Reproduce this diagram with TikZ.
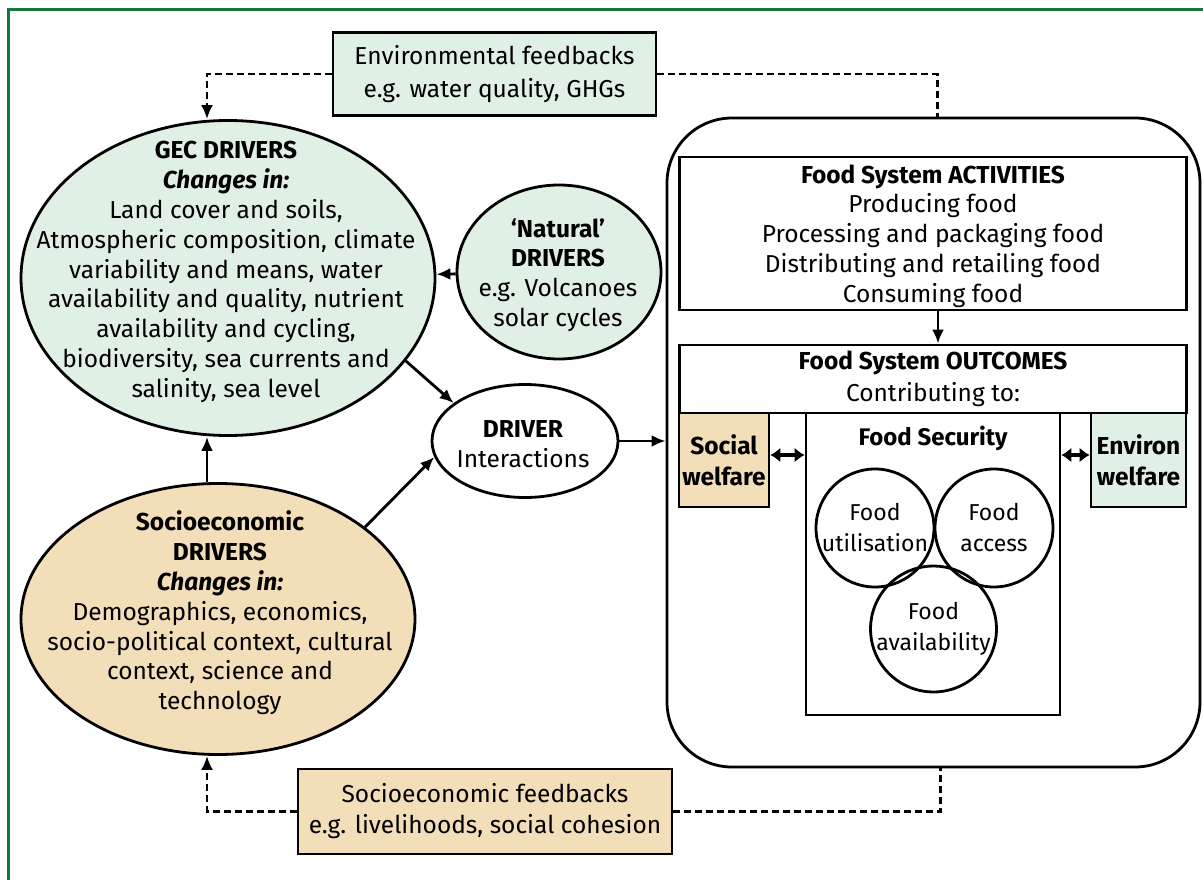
\documentclass[tikz,border=0pt]{standalone}
\usepackage{fontspec}
\setmainfont{Fira Sans}
\usetikzlibrary{shapes.geometric,arrows.meta}
\definecolor{envgreen}{RGB}{225,240,229}
\definecolor{socitan}{RGB}{242,222,185}
\definecolor{framegreen}{RGB}{24,118,58}

\begin{document}
\begin{tikzpicture}[x=1pt,y=-1pt,line width=2.8pt,>={Latex[length=14pt,width=12pt]},
    every node/.style={font=\fontsize{24.5}{29.8}\selectfont,align=center,inner sep=0pt},
    drv node/.style={ellipse,draw,line width=2.8pt},
    box node/.style={rectangle,draw,line width=2.8pt},
    food circle/.style={circle,draw,line width=2.8pt,minimum size=118pt,font=\fontsize{23}{31}\selectfont},
    fb line/.style={dash pattern=on 7pt off 4pt,line width=2.6pt},
    both ways/.style={line width=4pt,{Latex[length=10pt,width=15pt]}-{Latex[length=10pt,width=15pt]}}]
    \clip (0,0) rectangle (1203,880);
    \draw[framegreen,line width=3pt] (8,10) rectangle (1230,900);

    % drivers
    \node[drv node,fill=envgreen,minimum width=414pt,minimum height=315pt] at (228,278) (gec) {};
    \node at (226,272) (gectext)
        {\textbf{GEC DRIVERS}\\\textbf{\textit{Changes in:}}\\Land cover and soils,\\Atmospheric composition, climate\\variability and means, water\\availability and quality, nutrient\\availability and cycling,\\biodiversity, sea currents and\\salinity, sea level};
    \node[drv node,fill=envgreen,minimum width=204pt,minimum height=174pt] at (559,272) (natural) {};
    \node at (558,275) (naturaltext)
        {\textbf{‘Natural’}\\\textbf{DRIVERS}\\e.g. Volcanoes\\solar cycles};
    \node[drv node,minimum width=186pt,minimum height=113pt] at (525,441) (driver) {};
    \node at (523,444) (drivertext) {\textbf{DRIVER}\\Interactions};
    \node[drv node,fill=socitan,minimum width=394pt,minimum height=271pt] at (218,619) (socio) {};
    \node at (220,613) (sociotext)
        {\textbf{Socioeconomic}\\\textbf{DRIVERS}\\\textbf{\textit{Changes in:}}\\Demographics, economics,\\socio-political context, cultural\\context, science and\\technology};

    % feedbacks
    \node[box node,fill=envgreen,minimum width=323pt,minimum height=83pt,
        font=\fontsize{24.5}{33}\selectfont] at (494.5,74) (envfb)
        {Environmental feedbacks\\e.g. water quality, GHGs};
    \node[box node,fill=socitan,minimum width=374pt,minimum height=85pt,
        font=\fontsize{24.5}{31}\selectfont] at (485,811.5) (sociofb)
        {Socioeconomic feedbacks\\e.g. livelihoods, social cohesion};

    % food system
    \node[box node,rounded corners=65pt,minimum width=533pt,minimum height=649pt] at (933.5,442.5) (system) {};
    \node[box node,minimum width=507pt,minimum height=153pt,text depth=-3pt] at (933,233.5) (activities)
        {\textbf{Food System ACTIVITIES}\\Producing food\\Processing and packaging food\\Distributing and retailing food\\Consuming food};
    \node[box node,minimum width=507pt,minimum height=68pt,
        font=\fontsize{24.5}{32}\selectfont] at (933,379) (outcomes)
        {\textbf{Food System OUTCOMES}\\Contributing to:};
    \node[box node,fill=socitan,minimum width=90pt,minimum height=94pt,
        font=\fontsize{24.5}{31}\selectfont\bfseries] at (724,460) (social)
        {Social\\welfare};
    \node[box node,minimum width=254pt,minimum height=302pt] at (933,564) (security) {};
    \node[box node,fill=envgreen,minimum width=95pt,minimum height=94pt,
        font=\fontsize{24.5}{31}\selectfont\bfseries] at (1138.5,460) (environ)
        {Environ\\welfare};
    \node[font=\fontsize{24}{29}\selectfont\bfseries] at (933,438) (sectitle) {Food Security};
    \node[food circle] at (875,528) (util) {Food\\utilisation};
    \node[food circle] at (994,528) (access) {Food\\access};
    \node[food circle] at (933.5,629) (avail) {Food\\availability};

    \path[->] (natural) edge (gec);
    \path[->] (gec.-25) edge (driver.152);
    \path[->] (socio.32) edge (driver.190);
    \path[->] ([xshift=-11pt]socio.north) edge ([xshift=-11pt]socio.north |- gec.south);
    \path[->] (driver.east) edge (system.west |- driver.east);
    \path[->] ([xshift=5pt]activities.south) edge ([xshift=5pt]outcomes.north);
    \path[both ways] ([yshift=5pt]social.east) edge ([yshift=5pt]security.west |- social.east);
    \path[both ways] ([yshift=5pt]security.east |- environ.west) edge ([yshift=5pt]environ.west);

    \draw[fb line,->] (envfb.west) -| ([xshift=-21pt]gec.north);
    \draw[fb line] (envfb.east) -| ([xshift=4pt]system.north);
    \draw[fb line,->] (sociofb.west) -| ([xshift=-11pt]socio.south);
    \draw[fb line] (sociofb.east) -| ([xshift=7pt]system.south);
\end{tikzpicture}
\end{document}
